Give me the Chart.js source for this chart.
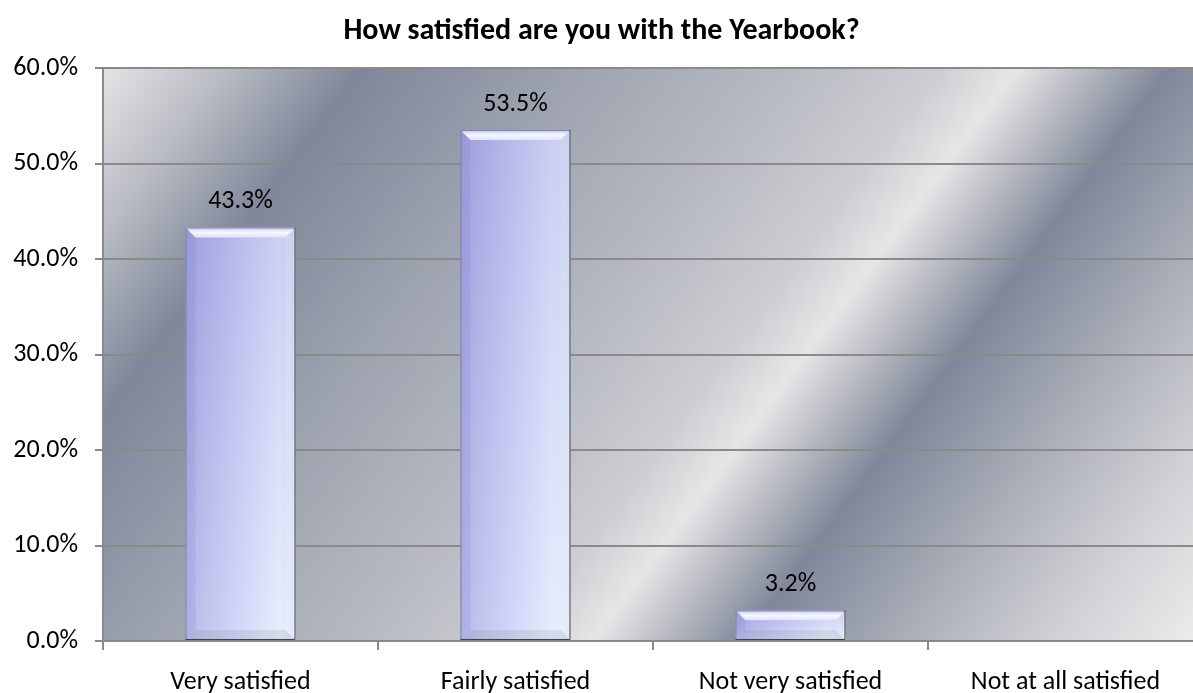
<!DOCTYPE html>
<html>
<head>
<meta charset="utf-8">
<script src="https://cdn.jsdelivr.net/npm/chart.js@4/dist/chart.umd.min.js"></script>
<style>
  html, body { margin: 0; padding: 0; overflow: hidden; background: #fff; }
</style>
</head>
<body>
<canvas id="chart" width="1206" height="693"></canvas>
<script>
// Data
const categories = ['Very satisfied', 'Fairly satisfied', 'Not very satisfied', 'Not at all satisfied'];
const shares = [43.3, 53.5, 3.2, 0];
const yMin = 0;
const yMax = 60;
const yStep = 10;

const FONT = 'Carlito, Lato, sans-serif';

// Diagonal striped-metal backdrop behind the plot
const plotBackground = {
	id: 'plotBackground',
	beforeDraw(chart) {
		const { ctx, chartArea: a } = chart;
		const g = ctx.createLinearGradient(a.left, a.top, a.left + 984, a.top + 729);
		g.addColorStop(0.00, '#e4e4e6');
		g.addColorStop(0.08, '#b9bcc3');
		g.addColorStop(0.17, '#80879a');
		g.addColorStop(0.30, '#9ca1ae');
		g.addColorStop(0.45, '#b7bac2');
		g.addColorStop(0.55, '#cdced2');
		g.addColorStop(0.60, '#e6e6e7');
		g.addColorStop(0.65, '#b3b6be');
		g.addColorStop(0.70, '#80879a');
		g.addColorStop(0.80, '#a9adb7');
		g.addColorStop(0.90, '#d0d1d5');
		g.addColorStop(1.00, '#ededed');
		ctx.save();
		ctx.fillStyle = g;
		ctx.fillRect(a.left, a.top, a.right - a.left, a.bottom - a.top);
		ctx.restore();
	}
};

// Bevelled lavender look on top of each bar, plus value labels
const barStyle = {
	id: 'barStyle',
	afterDatasetsDraw(chart) {
		const { ctx } = chart;
		const meta = chart.getDatasetMeta(0);
		ctx.save();
		meta.data.forEach((el, i) => {
			const { x, y, base, width } = el.getProps(['x', 'y', 'base', 'width'], true);
			const l = x - width / 2, r = x + width / 2, t = y, b = base;
			const h = b - t;
			if (h > 0.5) {
				const hg = ctx.createLinearGradient(l, 0, r, 0);
				hg.addColorStop(0, '#a6a9e4');
				hg.addColorStop(0.5, '#c9cff7');
				hg.addColorStop(0.85, '#e0e9fd');
				hg.addColorStop(1, '#d8e0f5');
				ctx.fillStyle = hg;
				ctx.fillRect(l, t, width, h);

				const vg = ctx.createLinearGradient(0, t, 0, b);
				vg.addColorStop(0, 'rgba(120,120,200,0.22)');
				vg.addColorStop(1, 'rgba(255,255,255,0.2)');
				ctx.fillStyle = vg;
				ctx.fillRect(l, t, width, h);

				const bv = Math.min(10, h / 3);
				// top bevel
				const tg = ctx.createLinearGradient(0, t, 0, t + bv);
				tg.addColorStop(0, '#c9cbf2');
				tg.addColorStop(0.5, '#f6f7ff');
				tg.addColorStop(1, '#dfe3fa');
				ctx.fillStyle = tg;
				ctx.beginPath();
				ctx.moveTo(l, t); ctx.lineTo(r, t); ctx.lineTo(r - bv, t + bv); ctx.lineTo(l + bv, t + bv);
				ctx.closePath(); ctx.fill();
				// left bevel
				ctx.fillStyle = 'rgba(110,110,190,0.14)';
				ctx.beginPath();
				ctx.moveTo(l, t); ctx.lineTo(l + bv, t + bv); ctx.lineTo(l + bv, b - bv); ctx.lineTo(l, b);
				ctx.closePath(); ctx.fill();
				// right bevel
				ctx.fillStyle = 'rgba(255,255,255,0.14)';
				ctx.beginPath();
				ctx.moveTo(r, t); ctx.lineTo(r - bv, t + bv); ctx.lineTo(r - bv, b - bv); ctx.lineTo(r, b);
				ctx.closePath(); ctx.fill();
				// bottom bevel
				ctx.fillStyle = 'rgba(90,110,90,0.12)';
				ctx.beginPath();
				ctx.moveTo(l, b); ctx.lineTo(l + bv, b - bv); ctx.lineTo(r - bv, b - bv); ctx.lineTo(r, b);
				ctx.closePath(); ctx.fill();

				// edges
				ctx.lineWidth = 1;
				ctx.strokeStyle = '#7c7ea8';
				ctx.beginPath(); ctx.moveTo(l + 0.5, b); ctx.lineTo(l + 0.5, t + 0.5); ctx.lineTo(r, t + 0.5); ctx.stroke();
				ctx.strokeStyle = '#3f4444';
				ctx.beginPath(); ctx.moveTo(r - 0.5, t); ctx.lineTo(r - 0.5, b - 0.5); ctx.lineTo(l, b - 0.5); ctx.stroke();
			}
			const v = shares[i];
			if (v > 0) {
				ctx.fillStyle = '#000';
				ctx.font = `26px ${FONT}`;
				ctx.textAlign = 'center';
				ctx.textBaseline = 'alphabetic';
				ctx.fillText(`${v.toFixed(1)}%`, x, t - 19);
			}
		});
		ctx.restore();
	}
};

const data = {
	labels: categories,
	datasets: [
		{
			data: shares,
			backgroundColor: 'rgba(0,0,0,0)',
			borderWidth: 0,
			barPercentage: 0.4,
			categoryPercentage: 1
		}
	]
};

const options = {
	responsive: false,
	animation: false,
	layout: {
		padding: { left: 0, right: 3, top: 0, bottom: 0 }
	},
	plugins: {
		legend: { display: false },
		tooltip: { enabled: false },
		title: {
			display: true,
			text: 'How satisfied are you with the Yearbook?',
			color: '#000',
			font: { family: FONT, size: 30, weight: 'bold', lineHeight: 1.2 },
			padding: { top: 13, bottom: 19 }
		}
	},
	scales: {
		x: {
			grid: {
				drawOnChartArea: false,
				drawTicks: true,
				tickLength: 9,
				color: '#8a8a8a',
				lineWidth: 2
			},
			border: { color: '#8a8a8a', width: 2 },
			ticks: {
				color: '#000',
				padding: 17,
				font: { family: FONT, size: 26 }
			},
			afterFit: (scale) => { scale.height = 52; }
		},
		y: {
			min: yMin,
			max: yMax,
			grid: {
				color: '#8a8a8a',
				lineWidth: 2,
				tickLength: 8
			},
			border: { color: '#8a8a8a', width: 2 },
			ticks: {
				stepSize: yStep,
				color: '#000',
				padding: 17,
				font: { family: FONT, size: 26 },
				callback: (v) => `${v.toFixed(1)}%`
			},
			afterFit: (scale) => { scale.width = 103; }
		}
	}
};

// Init
new Chart(document.getElementById('chart'), {
	type: 'bar',
	data,
	options,
	plugins: [plotBackground, barStyle]
});
</script>
</body>
</html>
